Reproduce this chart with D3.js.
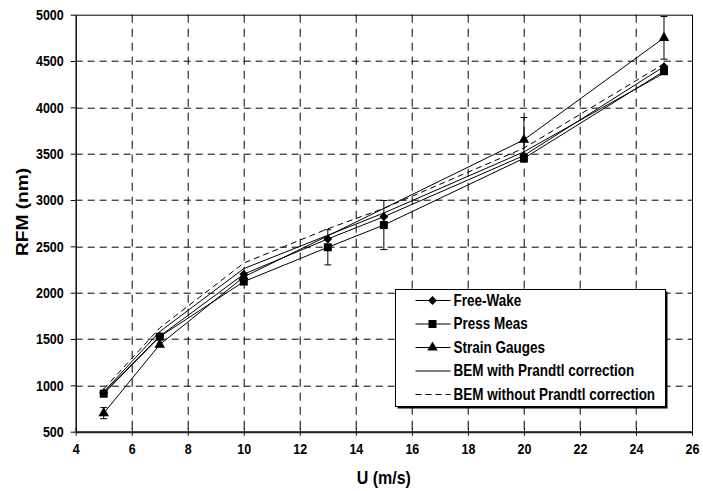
<!DOCTYPE html>
<html>
<head>
<meta charset="utf-8">
<script src="https://cdn.jsdelivr.net/npm/d3@7"></script>
<style>
  body { margin: 0; background: #fff; }
  svg text { font-family: "Liberation Sans", Arial, sans-serif; font-weight: bold; fill: #000; }
</style>
</head>
<body>
<div id="chart"></div>
<script>
'use strict';

// wind speeds (m/s)
var speeds = [5, 7, 10, 13, 15, 20, 25];

var freeWake = [920, 1530, 2200, 2580, 2820, 3480, 4440];
var pressMeas = [910, 1525, 2120, 2490, 2730, 3450, 4390];
var pressErr = [0, 0, 0, 190, 265, 0, 0];
var strainSpeeds = [5, 7, 10, 20, 25];
var strainGauges = [700, 1440, 2170, 3650, 4750];
var strainErr = [60, 0, 0, 240, 230];
var bemWith = [930, 1580, 2260, 2620, 2860, 3520, 4370];
var bemWithout = [960, 1620, 2320, 2690, 2910, 3560, 4470];

var xTicks = [4, 6, 8, 10, 12, 14, 16, 18, 20, 22, 24, 26];
var yTicks = [500, 1000, 1500, 2000, 2500, 3000, 3500, 4000, 4500, 5000];

var legendNames = ['Free-Wake', 'Press Meas', 'Strain Gauges', 'BEM with Prandtl correction', 'BEM without Prandtl correction'];

var W = 703, H = 491;
var margin = { top: 14.7, right: 11, bottom: 59.3, left: 75.7 };
var width = W - margin.left - margin.right;
var height = H - margin.top - margin.bottom;
var stretch = 1.16; // the original picture is taller than wide

var x = d3.scaleLinear().domain([4, 26]).range([0, width]);
var y = d3.scaleLinear().domain([500, 5000]).range([height, 0]);

var svg = d3.select('#chart').append('svg')
    .attr('width', W)
    .attr('height', H);

var g = svg.append('g')
    .attr('transform', 'translate(' + margin.left + ',' + margin.top + ')');

// grid
g.selectAll('.hgrid')
    .data(yTicks.slice(1, -1))
    .enter().append('line')
    .attr('x1', 0).attr('x2', width)
    .attr('y1', function(d) { return Math.round(y(d)) + 0.5; })
    .attr('y2', function(d) { return Math.round(y(d)) + 0.5; })
    .attr('stroke', '#000')
    .attr('stroke-dasharray', '7,5');

g.selectAll('.vgrid')
    .data(xTicks.slice(1, -1))
    .enter().append('line')
    .attr('y1', 0).attr('y2', height)
    .attr('x1', function(d) { return Math.round(x(d)) + 0.5; })
    .attr('x2', function(d) { return Math.round(x(d)) + 0.5; })
    .attr('stroke', '#000')
    .attr('stroke-dasharray', '8,6');

// frame
g.append('rect')
    .attr('x', 0.5).attr('y', 0.5)
    .attr('width', width).attr('height', height)
    .attr('fill', 'none')
    .attr('stroke', '#000');

// axes
var xAxis = d3.axisBottom(x).tickValues(xTicks).tickSizeInner(4).tickSizeOuter(0).tickPadding(8);
var yAxis = d3.axisLeft(y).tickValues(yTicks).tickFormat(d3.format('d')).tickSizeInner(5).tickSizeOuter(0).tickPadding(7);

var gx = g.append('g')
    .attr('transform', 'translate(0,' + height + ')')
    .call(xAxis);
gx.select('.domain').attr('stroke-width', 2).attr('stroke', '#222');
gx.selectAll('.tick line').attr('y1', -4);

var gy = g.append('g').call(yAxis);

svg.selectAll('.tick text')
    .attr('font-weight', 'bold')
    .style('font-size', '12.5px')
    .style('font-weight', 'bold')
    .style('font-family', '"Liberation Sans", Arial, sans-serif');

// stretch tick labels vertically around their own position
gx.selectAll('.tick text').attr('transform', function() {
    var ty = +d3.select(this).attr('y');
    return 'translate(0,' + ty + ') scale(1,' + stretch + ') translate(0,' + (-ty) + ')';
});
gy.selectAll('.tick text').attr('transform', 'scale(1,' + stretch + ')');

svg.append('text')
    .attr('transform', 'translate(' + (margin.left + width / 2) + ',484) scale(1,' + stretch + ')')
    .attr('text-anchor', 'middle')
    .style('font-size', '16px')
    .text('U (m/s)');

svg.append('text')
    .attr('transform', 'translate(28,212) scale(1,' + stretch + ') rotate(-90)')
    .attr('text-anchor', 'middle')
    .style('font-size', '16.5px')
    .text('RFM (nm)');

// series
var line = d3.line()
    .x(function(d) { return x(d[0]); })
    .y(function(d) { return y(d[1]); });

function pairs(xs, ys) {
    return xs.map(function(v, i) { return [v, ys[i]]; });
}

g.append('path').datum(pairs(speeds, bemWithout))
    .attr('d', line).attr('fill', 'none').attr('stroke', '#000')
    .attr('stroke-dasharray', '6,4');
g.append('path').datum(pairs(speeds, bemWith))
    .attr('d', line).attr('fill', 'none').attr('stroke', '#000');
g.append('path').datum(pairs(speeds, freeWake))
    .attr('d', line).attr('fill', 'none').attr('stroke', '#000');
g.append('path').datum(pairs(speeds, pressMeas))
    .attr('d', line).attr('fill', 'none').attr('stroke', '#000');
g.append('path').datum(pairs(strainSpeeds, strainGauges))
    .attr('d', line).attr('fill', 'none').attr('stroke', '#000');

// error bars
function errorBars(xs, ys, errs) {
    var data = xs.map(function(v, i) { return { u: v, v: ys[i], e: errs[i] }; })
        .filter(function(d) { return d.e > 0; });
    var eb = g.append('g').selectAll('g').data(data).enter().append('g');
    eb.append('line')
        .attr('x1', function(d) { return x(d.u); })
        .attr('x2', function(d) { return x(d.u); })
        .attr('y1', function(d) { return y(d.v - d.e); })
        .attr('y2', function(d) { return y(d.v + d.e); })
        .attr('stroke', '#000');
    [-1, 1].forEach(function(s) {
        eb.append('line')
            .attr('x1', function(d) { return x(d.u) - 3.5; })
            .attr('x2', function(d) { return x(d.u) + 3.5; })
            .attr('y1', function(d) { return y(d.v + s * d.e); })
            .attr('y2', function(d) { return y(d.v + s * d.e); })
            .attr('stroke', '#000');
    });
}
errorBars(speeds, pressMeas, pressErr);
errorBars(strainSpeeds, strainGauges, strainErr);

var diamond = d3.symbol().type(d3.symbolDiamond2).size(50);
var square = d3.symbol().type(d3.symbolSquare).size(64);
var triangle = d3.symbol().type(d3.symbolTriangle).size(48);

function markers(xs, ys, sym) {
    g.append('g').selectAll('path')
        .data(pairs(xs, ys))
        .enter().append('path')
        .attr('d', sym)
        .attr('transform', function(d) { return 'translate(' + x(d[0]) + ',' + y(d[1]) + ')'; })
        .attr('fill', '#000');
}
markers(speeds, freeWake, diamond);
markers(speeds, pressMeas, square);
markers(strainSpeeds, strainGauges, triangle);

// legend
var lg = svg.append('g').attr('transform', 'translate(395.5,289.5)');
lg.append('rect')
    .attr('x', 2).attr('y', 2).attr('width', 270).attr('height', 117)
    .attr('fill', '#000');
lg.append('rect')
    .attr('x', 0).attr('y', 0).attr('width', 270).attr('height', 117)
    .attr('fill', '#fff').attr('stroke', '#000');

var syms = [diamond, square, triangle, null, null];
legendNames.forEach(function(name, i) {
    var ly = 11 + i * 23.5;
    var row = lg.append('g').attr('transform', 'translate(0,' + ly + ')');
    row.append('line')
        .attr('x1', 20).attr('x2', 55)
        .attr('y1', 0).attr('y2', 0)
        .attr('stroke', '#000')
        .attr('stroke-dasharray', i === 4 ? '6,4' : null);
    if (syms[i]) {
        row.append('path').attr('d', syms[i]).attr('transform', 'translate(37,0)').attr('fill', '#000');
    }
    row.append('text')
        .attr('transform', 'translate(58,5) scale(1,' + stretch + ')')
        .style('font-size', '13.5px')
        .text(name);
});
</script>
</body>
</html>
